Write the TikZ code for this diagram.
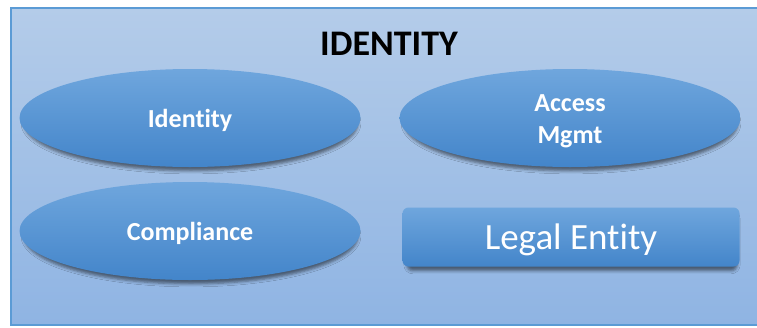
\documentclass[tikz,border=0pt]{standalone}
\usepackage{fontspec}
\setmainfont{Carlito}[Ligatures=NoCommon]
\usetikzlibrary{shapes.geometric,shadows.blur}
\definecolor{frameline}{HTML}{5B9BD5}
\definecolor{frametop}{HTML}{B4CCE9}
\definecolor{framebot}{HTML}{8FB4E3}
\definecolor{bubtop}{HTML}{6FA6DD}
\definecolor{bubmid}{HTML}{5A9BDA}
\definecolor{bubbot}{HTML}{4385CA}

\begin{document}
\begin{tikzpicture}[x=1pt,y=-1pt,
	bubble/.style={ellipse, minimum width=341pt, minimum height=98pt, inner sep=0pt,
		top color=bubtop, middle color=bubmid, bottom color=bubbot, draw=none,
		blur shadow={shadow xshift=1pt, shadow yshift=-5pt, shadow blur radius=3pt, shadow scale=0.98, shadow opacity=50},
		text=white, align=center, text depth=0pt,
		font=\fontsize{26}{32}\selectfont\bfseries},
	plate/.style={rectangle, rounded corners=6pt, minimum width=337pt, minimum height=59pt, inner sep=0pt,
		top color=bubtop, middle color=bubmid, bottom color=bubbot, draw=none,
		blur shadow={shadow xshift=1pt, shadow yshift=-5pt, shadow blur radius=3pt, shadow scale=0.98, shadow opacity=50},
		text=white, text depth=0pt, font=\fontsize{37}{44}\selectfont}]
	\useasboundingbox (0,0) rectangle (757,327);
	% frame
	\draw [line width=2pt, color=frameline, top color=frametop, bottom color=framebot] (11,8) rectangle (775,325);
	\node [font=\fontsize{36}{40}\selectfont\bfseries] (title) at (389,44) {IDENTITY};
	% boxes
	\node [bubble] (identity) at (190,118) {Identity};
	\node [bubble] (access) at (570,118) {\raisebox{-2pt}{Access}\\\raisebox{-2pt}{Mgmt}};
	\node [bubble] (compliance) at (190,231) {Compliance};
	\node [plate] (legal) at (571,237) {Legal Entity};
\end{tikzpicture}
\end{document}
